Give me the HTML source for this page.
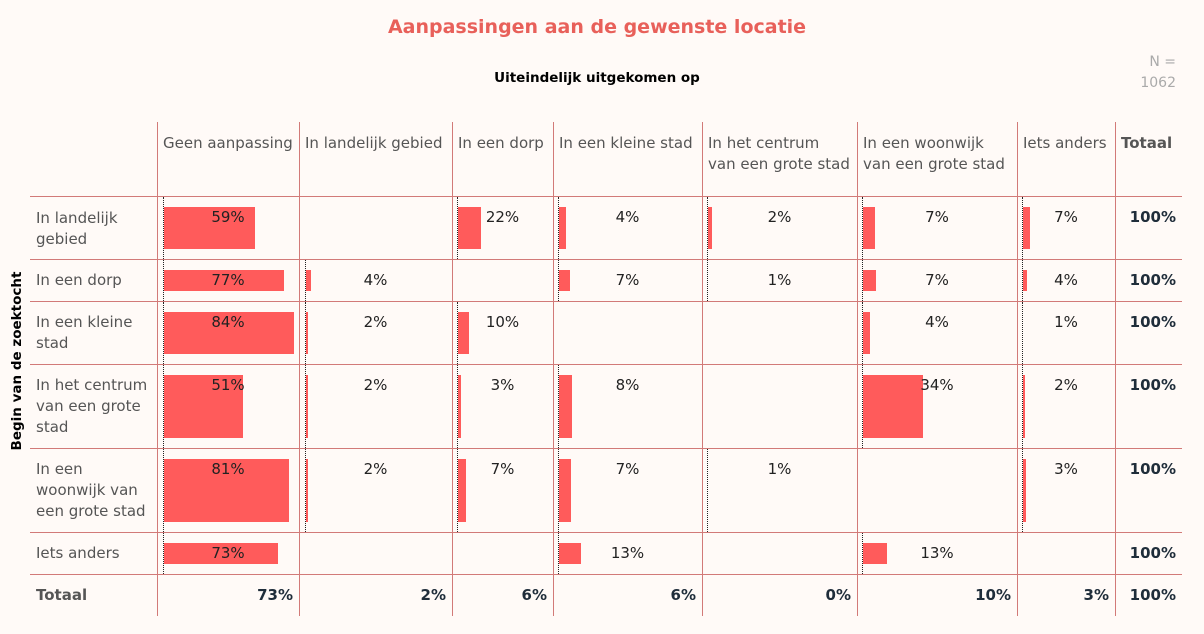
<!DOCTYPE html><html><head><meta charset="utf-8"><style>
body{margin:0;width:1204px;height:634px;background:#fffaf7;font-family:"DejaVu Sans","Liberation Sans",sans-serif;position:relative;overflow:hidden}
div{position:absolute}
.t{left:0;width:1194px;text-align:center;top:16px;font-size:19px;font-weight:bold;color:#e8605a}
.st{left:0;width:1194px;text-align:center;top:70px;font-size:13.5px;font-weight:bold;color:#000}
.n{right:28px;top:52px;text-align:right;font-size:14px;color:#aaa;line-height:21px}
.vl{width:1px;background:#d27a78;top:122px;height:494px}
.hl{height:1px;background:#d27a78;left:30px;width:1152px}
.h{font-size:15px;color:#555;line-height:21px;top:133px}
.rl{font-size:15px;color:#555;line-height:21px;left:36px}
.b{background:#ff5b5b}
.d{width:0;border-left:1px dotted #222}
.p{font-size:15px;color:#222;text-align:center;line-height:21px}
.tot{font-size:15px;font-weight:bold;color:#1f2d3a;line-height:21px}
.ax{left:-93px;top:353px;width:220px;transform:rotate(-90deg);text-align:center;font-size:13.5px;font-weight:bold;color:#000;white-space:nowrap}
</style></head><body>
<div class="t">Aanpassingen aan de gewenste locatie</div>
<div class="st">Uiteindelijk uitgekomen op</div>
<div class="n">N =<br>1062</div>
<div class="ax">Begin van de zoektocht</div>
<div class="vl" style="left:157px"></div><div class="vl" style="left:299px"></div><div class="vl" style="left:452px"></div><div class="vl" style="left:553px"></div><div class="vl" style="left:702px"></div><div class="vl" style="left:857px"></div><div class="vl" style="left:1017px"></div><div class="vl" style="left:1115px"></div>
<div class="hl" style="top:196px"></div><div class="hl" style="top:259px"></div><div class="hl" style="top:301px"></div><div class="hl" style="top:364px"></div><div class="hl" style="top:448px"></div><div class="hl" style="top:532px"></div><div class="hl" style="top:574px"></div>
<div class="h" style="left:163px">Geen aanpassing</div>
<div class="h" style="left:305px">In landelijk gebied</div>
<div class="h" style="left:458px">In een dorp</div>
<div class="h" style="left:559px">In een kleine stad</div>
<div class="h" style="left:708px">In het centrum<br>van een grote stad</div>
<div class="h" style="left:863px">In een woonwijk<br>van een grote stad</div>
<div class="h" style="left:1023px">Iets anders</div>
<div class="h" style="left:1121px;font-weight:bold">Totaal</div>
<div class="rl" style="top:208px">In landelijk<br>gebied</div>
<div class="rl" style="top:270px">In een dorp</div>
<div class="rl" style="top:312px">In een kleine<br>stad</div>
<div class="rl" style="top:375px">In het centrum<br>van een grote<br>stad</div>
<div class="rl" style="top:459px">In een<br>woonwijk van<br>een grote stad</div>
<div class="rl" style="top:543px">Iets anders</div>
<div class="rl" style="top:585px;font-weight:bold">Totaal</div>

<div class="d" style="left:163px;top:197px;height:62px"></div><div class="b" style="left:164px;top:207px;width:91px;height:42px"></div><div class="p" style="left:157px;width:142px;top:207px">59%</div>
<div class="d" style="left:457px;top:197px;height:62px"></div><div class="b" style="left:458px;top:207px;width:23px;height:42px"></div><div class="p" style="left:452px;width:101px;top:207px">22%</div>
<div class="d" style="left:558px;top:197px;height:62px"></div><div class="b" style="left:559px;top:207px;width:7px;height:42px"></div><div class="p" style="left:553px;width:149px;top:207px">4%</div>
<div class="d" style="left:707px;top:197px;height:62px"></div><div class="b" style="left:708px;top:207px;width:4px;height:42px"></div><div class="p" style="left:702px;width:155px;top:207px">2%</div>
<div class="d" style="left:862px;top:197px;height:62px"></div><div class="b" style="left:863px;top:207px;width:12px;height:42px"></div><div class="p" style="left:857px;width:160px;top:207px">7%</div>
<div class="d" style="left:1022px;top:197px;height:62px"></div><div class="b" style="left:1023px;top:207px;width:7px;height:42px"></div><div class="p" style="left:1017px;width:98px;top:207px">7%</div>
<div class="tot" style="left:1115px;width:61px;text-align:right;top:207px">100%</div>

<div class="d" style="left:163px;top:260px;height:41px"></div><div class="b" style="left:164px;top:270px;width:120px;height:21px"></div><div class="p" style="left:157px;width:142px;top:270px">77%</div>
<div class="d" style="left:305px;top:260px;height:41px"></div><div class="b" style="left:306px;top:270px;width:5px;height:21px"></div><div class="p" style="left:299px;width:153px;top:270px">4%</div>
<div class="d" style="left:558px;top:260px;height:41px"></div><div class="b" style="left:559px;top:270px;width:11px;height:21px"></div><div class="p" style="left:553px;width:149px;top:270px">7%</div>
<div class="d" style="left:707px;top:260px;height:41px"></div><div class="p" style="left:702px;width:155px;top:270px">1%</div>
<div class="d" style="left:862px;top:260px;height:41px"></div><div class="b" style="left:863px;top:270px;width:13px;height:21px"></div><div class="p" style="left:857px;width:160px;top:270px">7%</div>
<div class="d" style="left:1022px;top:260px;height:41px"></div><div class="b" style="left:1023px;top:270px;width:4px;height:21px"></div><div class="p" style="left:1017px;width:98px;top:270px">4%</div>
<div class="tot" style="left:1115px;width:61px;text-align:right;top:270px">100%</div>

<div class="d" style="left:163px;top:302px;height:62px"></div><div class="b" style="left:164px;top:312px;width:130px;height:42px"></div><div class="p" style="left:157px;width:142px;top:312px">84%</div>
<div class="d" style="left:305px;top:302px;height:62px"></div><div class="b" style="left:306px;top:312px;width:2px;height:42px"></div><div class="p" style="left:299px;width:153px;top:312px">2%</div>
<div class="d" style="left:457px;top:302px;height:62px"></div><div class="b" style="left:458px;top:312px;width:11px;height:42px"></div><div class="p" style="left:452px;width:101px;top:312px">10%</div>
<div class="d" style="left:862px;top:302px;height:62px"></div><div class="b" style="left:863px;top:312px;width:7px;height:42px"></div><div class="p" style="left:857px;width:160px;top:312px">4%</div>
<div class="d" style="left:1022px;top:302px;height:62px"></div><div class="p" style="left:1017px;width:98px;top:312px">1%</div>
<div class="tot" style="left:1115px;width:61px;text-align:right;top:312px">100%</div>

<div class="d" style="left:163px;top:365px;height:83px"></div><div class="b" style="left:164px;top:375px;width:79px;height:63px"></div><div class="p" style="left:157px;width:142px;top:375px">51%</div>
<div class="d" style="left:305px;top:365px;height:83px"></div><div class="b" style="left:306px;top:375px;width:2px;height:63px"></div><div class="p" style="left:299px;width:153px;top:375px">2%</div>
<div class="d" style="left:457px;top:365px;height:83px"></div><div class="b" style="left:458px;top:375px;width:3px;height:63px"></div><div class="p" style="left:452px;width:101px;top:375px">3%</div>
<div class="d" style="left:558px;top:365px;height:83px"></div><div class="b" style="left:559px;top:375px;width:13px;height:63px"></div><div class="p" style="left:553px;width:149px;top:375px">8%</div>
<div class="d" style="left:862px;top:365px;height:83px"></div><div class="b" style="left:863px;top:375px;width:60px;height:63px"></div><div class="p" style="left:857px;width:160px;top:375px">34%</div>
<div class="d" style="left:1022px;top:365px;height:83px"></div><div class="b" style="left:1023px;top:375px;width:2px;height:63px"></div><div class="p" style="left:1017px;width:98px;top:375px">2%</div>
<div class="tot" style="left:1115px;width:61px;text-align:right;top:375px">100%</div>

<div class="d" style="left:163px;top:449px;height:83px"></div><div class="b" style="left:164px;top:459px;width:125px;height:63px"></div><div class="p" style="left:157px;width:142px;top:459px">81%</div>
<div class="d" style="left:305px;top:449px;height:83px"></div><div class="b" style="left:306px;top:459px;width:2px;height:63px"></div><div class="p" style="left:299px;width:153px;top:459px">2%</div>
<div class="d" style="left:457px;top:449px;height:83px"></div><div class="b" style="left:458px;top:459px;width:8px;height:63px"></div><div class="p" style="left:452px;width:101px;top:459px">7%</div>
<div class="d" style="left:558px;top:449px;height:83px"></div><div class="b" style="left:559px;top:459px;width:12px;height:63px"></div><div class="p" style="left:553px;width:149px;top:459px">7%</div>
<div class="d" style="left:707px;top:449px;height:83px"></div><div class="p" style="left:702px;width:155px;top:459px">1%</div>
<div class="d" style="left:1022px;top:449px;height:83px"></div><div class="b" style="left:1023px;top:459px;width:3px;height:63px"></div><div class="p" style="left:1017px;width:98px;top:459px">3%</div>
<div class="tot" style="left:1115px;width:61px;text-align:right;top:459px">100%</div>

<div class="d" style="left:163px;top:533px;height:41px"></div><div class="b" style="left:164px;top:543px;width:114px;height:21px"></div><div class="p" style="left:157px;width:142px;top:543px">73%</div>
<div class="d" style="left:558px;top:533px;height:41px"></div><div class="b" style="left:559px;top:543px;width:22px;height:21px"></div><div class="p" style="left:553px;width:149px;top:543px">13%</div>
<div class="d" style="left:862px;top:533px;height:41px"></div><div class="b" style="left:863px;top:543px;width:24px;height:21px"></div><div class="p" style="left:857px;width:160px;top:543px">13%</div>
<div class="tot" style="left:1115px;width:61px;text-align:right;top:543px">100%</div>

<div class="tot" style="left:157px;width:136px;text-align:right;top:585px">73%</div>
<div class="tot" style="left:299px;width:147px;text-align:right;top:585px">2%</div>
<div class="tot" style="left:452px;width:95px;text-align:right;top:585px">6%</div>
<div class="tot" style="left:553px;width:143px;text-align:right;top:585px">6%</div>
<div class="tot" style="left:702px;width:149px;text-align:right;top:585px">0%</div>
<div class="tot" style="left:857px;width:154px;text-align:right;top:585px">10%</div>
<div class="tot" style="left:1017px;width:92px;text-align:right;top:585px">3%</div>
<div class="tot" style="left:1115px;width:61px;text-align:right;top:585px">100%</div>
</body></html>
